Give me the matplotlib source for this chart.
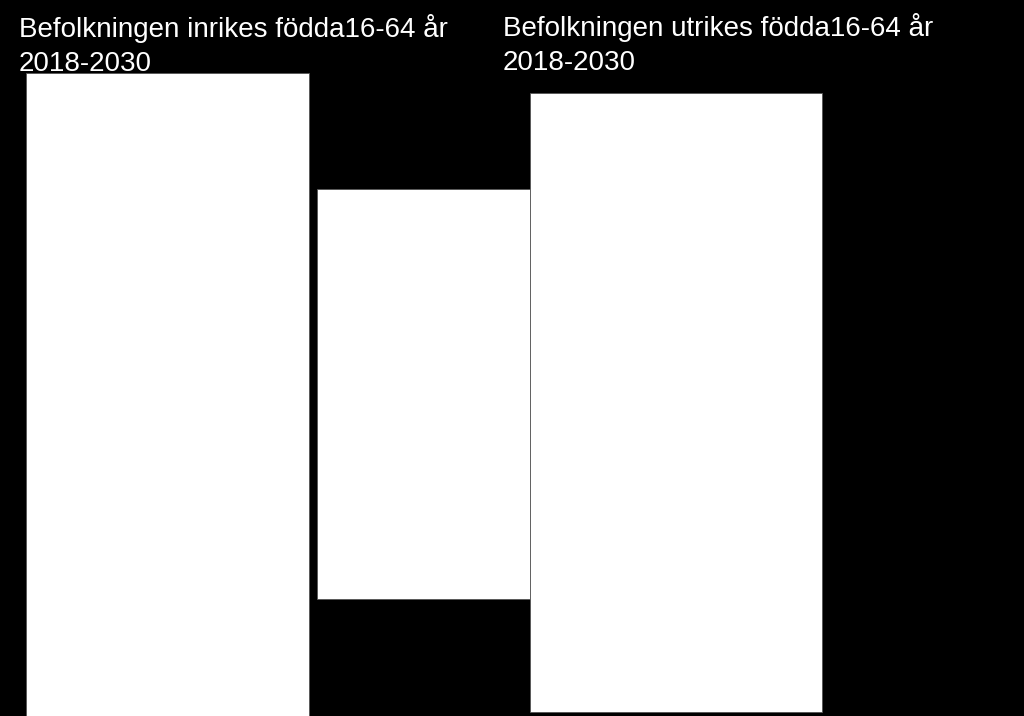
import matplotlib
matplotlib.use("Agg")
import matplotlib.pyplot as plt

# Panel titles
titles = ["Befolkningen inrikes födda16-64 år\n2018-2030",
          "Befolkningen utrikes födda16-64 år\n2018-2030"]
title_x = [19, 503]
title_y = [14, 13]

# White placeholder blocks (slide units, y downwards)
block_left = [26, 317, 530]
block_right = [309, 530, 822]
block_top = [73, 189, 93]
block_bottom = [716, 599, 712]

fig = plt.figure(figsize=(10.24, 7.16), dpi=100, facecolor="black")
ax = fig.add_axes([0, 0, 1, 1])
ax.set_facecolor("black")
ax.set_xlim(0, 1024)
ax.set_ylim(716, 0)
ax.axis("off")

widths = [r - l for l, r in zip(block_left, block_right)]
heights = [b - t for t, b in zip(block_top, block_bottom)]
ax.bar(block_left, heights, width=widths, bottom=block_top, align="edge",
       color="white", edgecolor="#555555", linewidth=0.6, zorder=1)

for t, x, y in zip(titles, title_x, title_y):
    ax.text(x, y, t, color="white", fontsize=20, family="Liberation Sans",
            ha="left", va="top", linespacing=1.38, zorder=3)

fig.savefig("out.png", dpi=100, facecolor="black")
